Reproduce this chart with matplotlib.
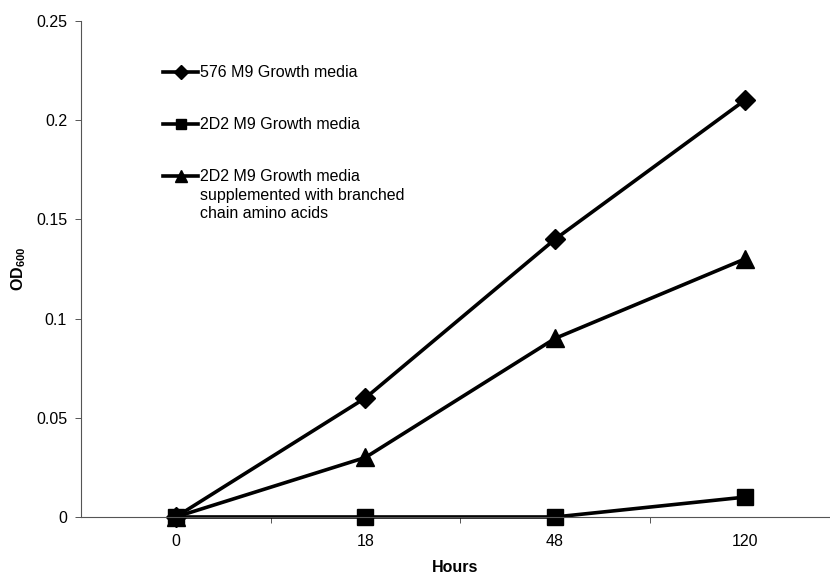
import numpy as np
import matplotlib.pyplot as plt

plt.rcParams['font.family'] = ['Liberation Sans', 'DejaVu Sans']
plt.rcParams['mathtext.fontset'] = 'custom'
plt.rcParams['mathtext.bf'] = 'Liberation Sans:bold'

# data
hours = ['0', '18', '48', '120']
od_576 = [0, 0.06, 0.14, 0.21]
od_2d2 = [0, 0, 0, 0.01]
od_2d2_sup = [0, 0.03, 0.09, 0.13]

x = np.arange(len(hours))

fig = plt.figure(figsize=(8.3, 5.75), dpi=100)
ax = fig.add_axes([0.0976, 0.1009, 0.9024, 0.8626])

ax.plot(x, od_576, '-D', color='black', lw=2.6, ms=10.5, clip_on=False,
        label='576 M9 Growth media')
ax.plot(x, od_2d2, '-s', color='black', lw=2.6, ms=11.5, clip_on=False,
        label='2D2 M9 Growth media')
ax.plot(x, od_2d2_sup, '-^', color='black', lw=2.6, ms=12.5, clip_on=False,
        label='2D2 M9 Growth media\nsupplemented with branched\nchain amino acids')

ax.set_xlim(-0.5, 3.45)
ax.set_ylim(0, 0.25)
ax.set_yticks([0, 0.05, 0.1, 0.15, 0.2, 0.25])
ax.set_yticklabels(['0', '0.05', '0.1', '0.15', '0.2', '0.25'])
ax.set_xticks(x)
ax.set_xticklabels(hours)
ax.set_xticks(np.arange(0.5, 3, 1), minor=True)
ax.tick_params(axis='x', which='major', length=0, pad=12, labelsize=11.5)
ax.tick_params(axis='x', which='minor', length=4, width=0.7, direction='out', color='#555555')
ax.tick_params(axis='y', length=4, width=0.7, direction='out', labelsize=11.5, pad=6,
               color='#555555')

for s in ['top', 'right']:
    ax.spines[s].set_visible(False)
for s in ['left', 'bottom']:
    ax.spines[s].set_linewidth(0.8)
    ax.spines[s].set_color('#555555')

ax.set_xlabel('Hours', fontsize=11.5, fontweight='bold', labelpad=8)
ax.set_ylabel(r'OD$_{\mathbf{600}}$', fontsize=11.5, fontweight='bold', labelpad=6)

leg = fig.legend(loc='upper left', bbox_to_anchor=(163 / 830, 1 - 65 / 575), frameon=False,
                 fontsize=11.5, handlelength=2.2, handletextpad=0.12, handleheight=1.1,
                 labelspacing=2.3, markerscale=0.65, borderpad=0, borderaxespad=0)
leg.get_texts()[2].set_linespacing(1.3)
# put the handle on the first line of a wrapped label
for col in leg._legend_handle_box.get_children():
    for row in col.get_children():
        row.align = 'top'

fig.savefig('out.png', dpi=100)
